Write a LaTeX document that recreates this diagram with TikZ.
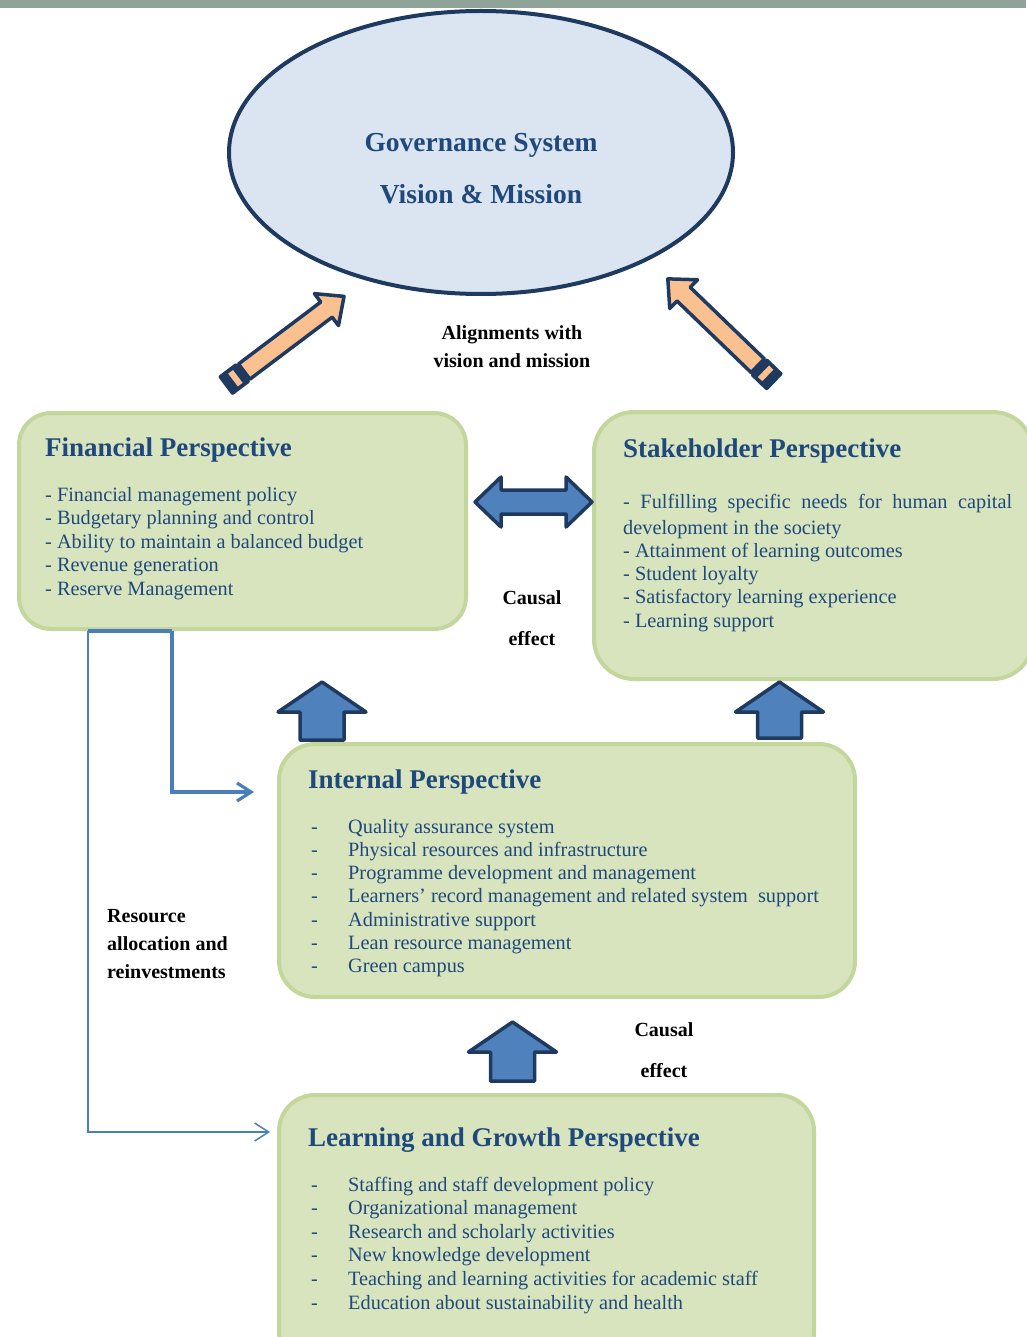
\documentclass[tikz,border=0pt]{standalone}
\usepackage{fontspec}
\setmainfont{Liberation Serif}
\usepackage{xcolor}
\usetikzlibrary{arrows.meta,shapes.geometric}
\definecolor{barc}{HTML}{8FA398}
\definecolor{ellfill}{HTML}{DBE5F1}
\definecolor{navyc}{HTML}{1F3A60}
\definecolor{boxfill}{HTML}{D7E4BD}
\definecolor{boxline}{HTML}{C3D69B}
\definecolor{textc}{HTML}{1F497D}
\definecolor{blockc}{HTML}{4F81BD}
\definecolor{orangec}{HTML}{FAC08F}
\definecolor{linkc}{HTML}{4A7EBB}
\tikzset{
  persp/.style={draw=boxline,line width=4pt,fill=boxfill,rounded corners=32pt,inner sep=0pt},
  head/.style={anchor=base west,inner sep=0pt,text=textc,font=\fontsize{27}{31}\selectfont\bfseries},
  item/.style={anchor=base west,inner sep=0pt,text=textc,font=\fontsize{20.3}{23.5}\selectfont},
  lbl/.style={anchor=base,inner sep=0pt,font=\fontsize{20}{24}\selectfont\bfseries},
  blockar/.style={draw=navyc,line width=3.5pt,line join=round,fill=blockc},
  pencil/.style={draw=navyc,line width=3.5pt,line join=round,fill=orangec},
  link/.style={draw=linkc,-{Straight Barb[length=14pt,width=18pt]}}
}
\begin{document}
\begin{tikzpicture}[x=1pt,y=-1pt]
\useasboundingbox (0,0) rectangle (1026,1337);
% governance ellipse
\node[ellipse,draw=navyc,line width=4pt,fill=ellfill,minimum width=504pt,minimum height=283pt,inner sep=0pt] (gov) at (481,152.5) {};
\node[lbl,text=textc,font=\fontsize{27.5}{32}\selectfont\bfseries] (gov1) at (481,151.5) {Governance System};
\node[lbl,text=textc,font=\fontsize{27.5}{32}\selectfont\bfseries] (gov2) at (481,203.5) {Vision \& Mission};
\fill[barc] (0,0) rectangle (1026,8);
% perspective boxes
\node[persp,minimum width=447pt,minimum height=216pt] (fin) at (242.5,521) {};
\node[persp,minimum width=439pt,minimum height=267pt,rounded corners=40pt] (stk) at (813.5,545.5) {};
\node[persp,minimum width=576pt,minimum height=253pt,rounded corners=36pt] (int) at (567,870.5) {};
\node[persp,minimum width=535pt,minimum height=273pt,rounded corners=36pt] (lrn) at (546.5,1231.5) {};
% financial
\node[head] (finh) at (45,456) {Financial Perspective};
\foreach \i/\txt in {0/Financial management policy,1/Budgetary planning and control,2/Ability to maintain a balanced budget,3/Revenue generation,4/Reserve Management}
  {\node[item] (fin\i) at (45,{501+23.5*\i}) {- \txt};}
% stakeholder
\node[head] (stkh) at (623,457) {Stakeholder Perspective};
\node[item] (stk0) at (623,508) {\makebox[389pt][s]{- Fulfilling specific needs for human capital}};
\node[item] (stk1) at (623,534) {development in the society};
\foreach \i/\txt in {2/Attainment of learning outcomes,3/Student loyalty,4/Satisfactory learning experience,5/Learning support}
  {\node[item] (stk\i) at (623,{557+23.4*(\i-2)}) {- \txt};}
% internal
\node[head] (inth) at (308,788) {Internal Perspective};
\foreach \i/\txt in {0/Quality assurance system,1/Physical resources and infrastructure,2/Programme development and management,3/Learners’ record management and related system \ support,4/Administrative support,5/Lean resource management,6/Green campus}
  {\node[item] (intd\i) at (311,{833+23.3*\i}) {-};
   \node[item] (int\i) at (348,{833+23.3*\i}) {\txt};}
% learning and growth
\node[head] (lrnh) at (308,1146) {Learning and Growth Perspective};
\foreach \i/\txt in {0/Staffing and staff development policy,1/Organizational management,2/Research and scholarly activities,3/New knowledge development,4/Teaching and learning activities for academic staff,5/Education about sustainability and health}
  {\node[item] (lrnd\i) at (311,{1191+23.6*\i}) {-};
   \node[item] (lrn\i) at (348,{1191+23.6*\i}) {\txt};}
% orange alignment arrows
\begin{scope}[shift={(245,371)},rotate=37]
\fill[navyc,rounded corners=2pt] (-25,-12) rectangle (-2,12);
\fill[orangec] (-15,-8) rectangle (-9,8);
\draw[pencil] (-1,-9.5) -- (102,-9.5) -- (102,-20) -- (124,0) -- (102,20) -- (102,9.5) -- (-1,9.5) -- cycle;
\end{scope}
\begin{scope}[shift={(757,365)},rotate=136]
\fill[navyc,rounded corners=2pt] (-25,-12) rectangle (-2,12);
\fill[orangec] (-15,-8) rectangle (-9,8);
\draw[pencil] (-1,-9.5) -- (102,-9.5) -- (102,-20) -- (124,0) -- (102,20) -- (102,9.5) -- (-1,9.5) -- cycle;
\end{scope}
\node[lbl] (al1) at (512,339) {Alignments with};
\node[lbl] (al2) at (512,367) {vision and mission};
% double arrow between financial and stakeholder
\draw[blockar] (475,502) -- (501,477) -- (501,490) -- (566,490) -- (566,477) -- (592,502) -- (566,527) -- (566,514) -- (501,514) -- (501,527) -- cycle;
% causal block arrows
\foreach \cx/\ty/\by in {322/682/740,779.5/682/738,512.5/1022/1081}
  {\draw[blockar] (\cx,\ty) -- (\cx+44,\ty+30) -- (\cx+22,\ty+30) -- (\cx+22,\by) -- (\cx-22,\by) -- (\cx-22,\ty+30) -- (\cx-44,\ty+30) -- cycle;}
\node[lbl] (ce1) at (532,604) {Causal};
\node[lbl] (ce2) at (532,645) {effect};
\node[lbl] (ce3) at (664,1036) {Causal};
\node[lbl] (ce4) at (664,1077) {effect};
% resource allocation links
\coordinate (ra) at ([xshift=71pt]fin.south west);
\coordinate (rb) at ([xshift=155pt]fin.south west);
\coordinate (ia) at (254,792);
\coordinate (la) at (270,1132);
\draw[linkc,line width=3.2pt] (ra) -- (rb);
\draw[link,line width=3.2pt] (rb) |- (ia);
\draw[link,line width=1.5pt] (ra) |- (la);
\node[lbl,anchor=base west] (res1) at (107,922) {Resource};
\node[lbl,anchor=base west] (res2) at (107,950) {allocation and};
\node[lbl,anchor=base west] (res3) at (107,978) {reinvestments};
\end{tikzpicture}
\end{document}
